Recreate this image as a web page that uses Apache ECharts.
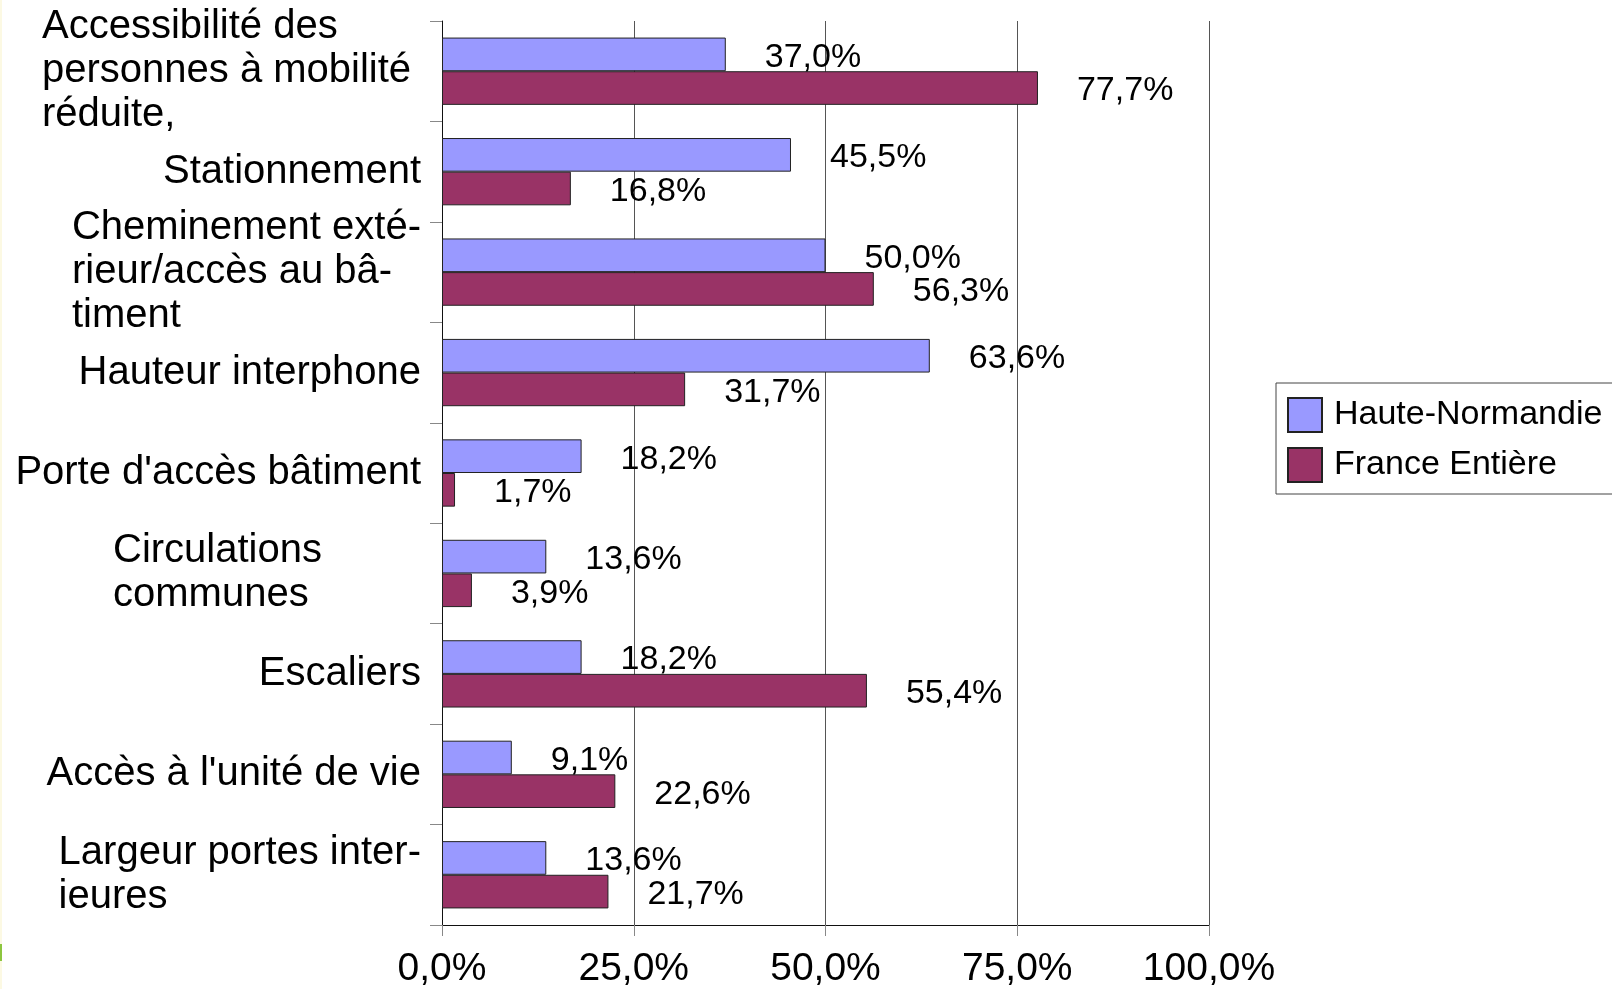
<!DOCTYPE html>
<html>
<head>
<meta charset="utf-8">
<script src="https://cdn.jsdelivr.net/npm/echarts@6/dist/echarts.min.js"></script>
<style>
  html, body { margin: 0; padding: 0; background: #fff; }
  #chart { width: 1612px; height: 989px; }
</style>
</head>
<body>
<div id="chart"></div>
<script>
  // categories, top to bottom
  const categories = [
    'Accessibilité des\npersonnes à mobilité\nréduite,',
    'Stationnement',
    'Cheminement exté-\nrieur/accès au bâ-\ntiment',
    'Hauteur interphone',
    "Porte d'accès bâtiment",
    'Circulations\ncommunes',
    'Escaliers',
    "Accès à l'unité de vie",
    'Largeur portes inter-\nieures'
  ];
  const hauteNormandie = [37.0, 45.5, 50.0, 63.6, 18.2, 13.6, 18.2, 9.1, 13.6];
  const franceEntiere = [77.7, 16.8, 56.3, 31.7, 1.7, 3.9, 55.4, 22.6, 21.7];
  const xTicks = [0, 25, 50, 75, 100];

  const FONT = 'Liberation Sans, Arial, sans-serif';
  const fmtPct = v => v.toFixed(1).replace('.', ',') + '%';

  // multi-line labels are left-aligned inside their block
  const labelFmt = function (name) {
    let style = 'l';
    if (name.indexOf('Circulations') === 0) style = 'c';
    if (name.indexOf('Accessibilit') === 0) style = 'a';
    return name.split('\n').map(s => '{' + style + '|' + s + '}').join('\n');
  };
  const richBase = { fontSize: 40, lineHeight: 44, color: '#000', fontFamily: FONT, align: 'left' };

  const valueLabel = {
    show: true,
    position: 'right',
    distance: 39,
    offset: [0, 3],
    fontSize: 34,
    color: '#000',
    fontFamily: FONT,
    formatter: p => fmtPct(p.value)
  };

  let myChart = echarts.init(document.getElementById('chart'));
  let option = {
    animation: false,
    textStyle: { fontFamily: FONT, color: '#000' },
    grid: { left: 442, right: 403, top: 21, bottom: 61 },
    legend: {
      orient: 'vertical',
      left: 1276,
      top: 383,
      data: ['Haute-Normandie', 'France Entière'],
      itemWidth: 34,
      itemHeight: 34,
      itemGap: 14,
      icon: 'rect',
      borderColor: '#444',
      borderWidth: 1,
      padding: [14, 40, 11, 11],
      textStyle: { fontSize: 34, color: '#000', fontFamily: FONT, padding: [0, 0, 0, 7] }
    },
    xAxis: {
      type: 'value',
      min: xTicks[0],
      max: xTicks[xTicks.length - 1],
      interval: 25,
      axisLine: { show: true, lineStyle: { color: '#111', width: 1 } },
      axisTick: { show: true, length: 11, lineStyle: { color: '#888' } },
      splitLine: { show: true, lineStyle: { color: '#555', width: 1 } },
      axisLabel: {
        fontSize: 39,
        color: '#000',
        fontFamily: FONT,
        margin: 25,
        formatter: v => fmtPct(v)
      }
    },
    yAxis: {
      type: 'category',
      inverse: true,
      data: categories,
      axisLine: { show: true, lineStyle: { color: '#111', width: 1 } },
      axisTick: { show: true, length: 12, lineStyle: { color: '#888' } },
      axisLabel: {
        margin: 21,
        formatter: labelFmt,
        rich: {
          l: richBase,
          a: Object.assign({}, richBase, { width: 379 }),
          c: Object.assign({}, richBase, { width: 308 })
        }
      }
    },
    series: [
      {
        name: 'Haute-Normandie',
        type: 'bar',
        data: hauteNormandie,
        barGap: '0%',
        barCategoryGap: '33%',
        itemStyle: { color: '#9999ff', borderColor: '#222', borderWidth: 1 },
        label: valueLabel
      },
      {
        name: 'France Entière',
        type: 'bar',
        data: franceEntiere,
        barGap: '0%',
        barCategoryGap: '33%',
        itemStyle: { color: '#993366', borderColor: '#222', borderWidth: 1 },
        label: valueLabel
      }
    ],
    graphic: [
      { type: 'rect', left: 0, top: 0, shape: { width: 2, height: 989 }, style: { fill: '#fcf9e3' }, silent: true },
      { type: 'rect', left: 0, top: 944, shape: { width: 2, height: 17 }, style: { fill: '#8dc63f' }, silent: true }
    ]
  };
  myChart.setOption(option);
</script>
</body>
</html>
